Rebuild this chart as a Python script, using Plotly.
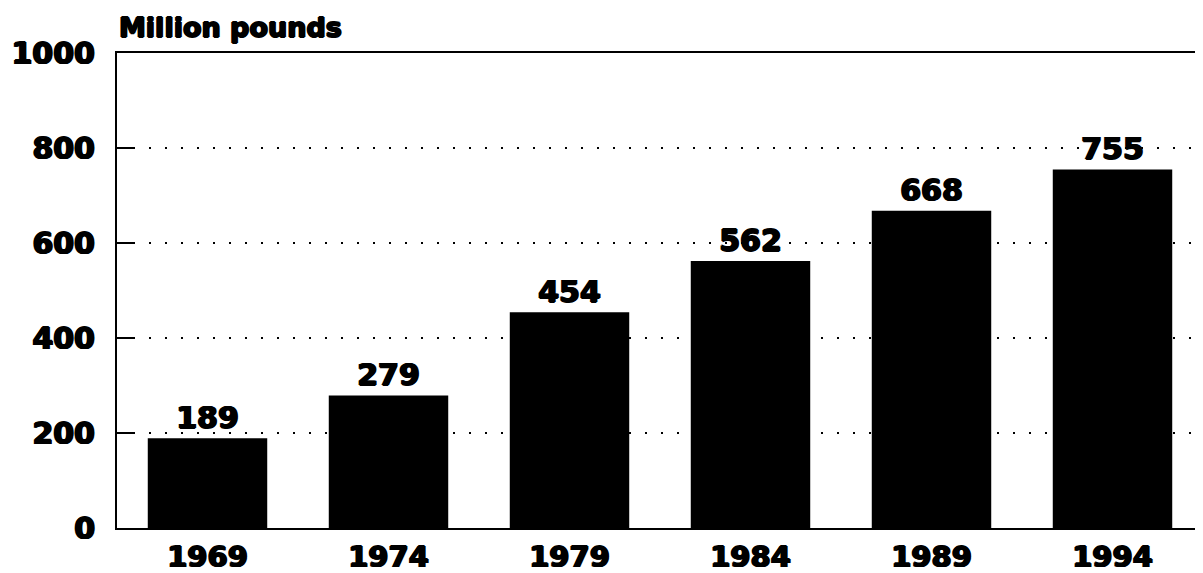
import plotly.graph_objects as go

years = ["1969", "1974", "1979", "1984", "1989", "1994"]
values = [189, 279, 454, 562, 668, 755]
y_ticks = [0, 200, 400, 600, 800, 1000]
y_title = "Million pounds"

FONT = "'DejaVu Sans', sans-serif"
HEAVY = "1px 0 0 black, -1px 0 0 black, 0 0.7px 0 black, 0 -0.7px 0 black"

fig = go.Figure(
    go.Bar(
        x=years,
        y=values,
        marker=dict(color="black", line=dict(width=0)),
        text=[str(v) for v in values],
        textposition="outside",
        textfont=dict(family=FONT, size=30, color="black", weight="bold", shadow=HEAVY),
        cliponaxis=False,
        width=0.66,
    )
)

fig.update_layout(
    width=1195,
    height=565,
    margin=dict(l=109, r=0, t=45, b=45, autoexpand=False),
    paper_bgcolor="white",
    plot_bgcolor="white",
    showlegend=False,
    annotations=[
        dict(
            text=y_title,
            xref="paper", yref="paper",
            x=0.0, y=1.0,
            xanchor="left", yanchor="bottom",
            yshift=8,
            showarrow=False,
            font=dict(family=FONT, size=27, color="black", weight="bold", shadow=HEAVY),
        )
    ],
)

fig.update_xaxes(
    type="category",
    range=[-0.5, 5.5],
    showline=True, linecolor="black", linewidth=2,
    mirror=True,
    ticks="",
    showgrid=False,
    automargin=False,
    tickfont=dict(family=FONT, size=29, color="black", weight="bold", shadow=HEAVY),
    ticklabelstandoff=2,
)

fig.update_yaxes(
    range=[0, 1000],
    tickvals=y_ticks,
    ticktext=[str(v) for v in y_ticks],
    showline=True, linecolor="black", linewidth=2,
    ticks="inside", ticklen=16, tickwidth=2, tickcolor="black",
    showgrid=True, gridcolor="black", gridwidth=2, griddash="2px,14px",
    zeroline=False,
    automargin=False,
    tickfont=dict(family=FONT, size=30, color="black", weight="bold", shadow=HEAVY),
    ticklabelstandoff=14,
)

fig.write_html("out.html")
